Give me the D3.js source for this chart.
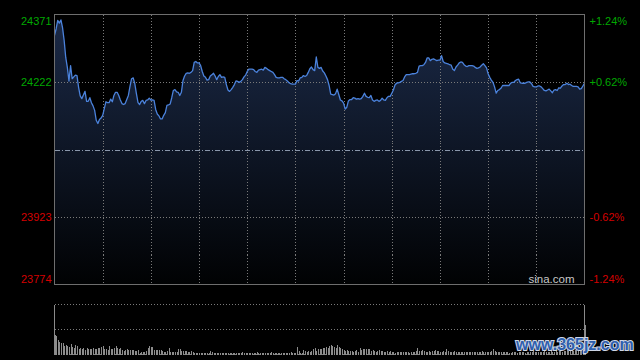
<!DOCTYPE html>
<html><head><meta charset="utf-8">
<script src="https://cdn.jsdelivr.net/npm/d3@7"></script>
<style>html,body{margin:0;padding:0;background:#000;overflow:hidden}svg{display:block}</style>
</head><body>
<svg id="c" width="640" height="360"></svg>
<script>
// ---- data ----
const prevClose = 24072.5;
const priceTicks = [24371, 24222, 23923, 23774];
const pctTicks = ["+1.24%", "+0.62%", "-0.62%", "-1.24%"];
const gridMinutes = [30, 60, 90, 120, 150, 180, 210, 240, 270, 300];
// one value per trading minute (0 = 09:30, 150 = 12:00/13:00, 330 = 16:00)
const prices = [
24325,24339,24358,24352,24359,24342,24314,24276,24254,24224,
24258,24229,24233,24237,24236,24210,24191,24185,24193,24201,
24179,24179,24187,24176,24169,24159,24137,24130,24139,24142,
24148,24163,24178,24176,24176,24184,24178,24192,24199,24199,
24192,24182,24174,24172,24174,24183,24192,24212,24229,24231,
24218,24196,24176,24172,24179,24181,24174,24181,24182,24186,
24182,24182,24181,24161,24151,24147,24140,24140,24148,24154,
24170,24171,24173,24187,24203,24205,24200,24199,24192,24199,
24225,24235,24241,24242,24241,24243,24247,24265,24267,24264,
24264,24258,24245,24235,24232,24226,24227,24235,24238,24241,
24235,24227,24234,24238,24232,24233,24232,24216,24204,24201,
24205,24210,24216,24224,24223,24221,24223,24227,24233,24237,
24245,24250,24250,24250,24249,24245,24243,24248,24249,24250,
24248,24254,24252,24249,24247,24245,24243,24238,24232,24231,
24231,24232,24232,24229,24227,24224,24220,24218,24217,24217,
24217,24225,24224,24231,24232,24236,24234,24236,24243,24251,
24255,24249,24247,24277,24254,24252,24254,24246,24242,24235,
24227,24214,24195,24194,24193,24196,24206,24194,24182,24180,
24175,24162,24166,24180,24183,24183,24187,24186,24184,24185,
24184,24185,24190,24197,24190,24188,24187,24192,24182,24179,
24181,24182,24179,24181,24186,24182,24181,24187,24190,24190,
24197,24204,24215,24219,24220,24221,24223,24225,24233,24238,
24238,24238,24239,24240,24240,24241,24243,24257,24258,24258,
24260,24265,24275,24275,24269,24272,24273,24271,24269,24270,
24270,24280,24267,24264,24263,24262,24260,24259,24250,24247,
24255,24259,24264,24266,24265,24260,24257,24256,24258,24258,
24258,24257,24254,24252,24253,24255,24259,24262,24258,24253,
24240,24232,24226,24221,24211,24197,24203,24205,24208,24214,
24214,24214,24214,24214,24219,24221,24221,24225,24227,24228,
24220,24219,24219,24219,24221,24222,24222,24218,24212,24211,
24211,24213,24213,24211,24207,24203,24202,24204,24206,24202,
24198,24204,24205,24203,24209,24208,24213,24216,24216,24219,
24216,24217,24214,24212,24212,24212,24211,24206,24207,24213,
24219
];
// volume per minute (relative units)
const volumes = [
20,19,15,13,12,12,9,10,9,8,11,8,7,10,9,6,7,6,7,5,7,
6,6,6,7,6,6,7,7,8,9,6,6,5,9,6,6,7,9,7,6,7,
5,4,5,6,5,5,5,5,4,4,5,2,3,3,3,4,7,9,8,8,5,
5,5,5,5,4,3,3,4,7,3,3,3,3,3,6,6,4,4,4,4,3,
3,4,3,2,2,2,2,2,2,2,2,2,2,4,3,2,2,2,2,2,2,
2,2,2,2,2,2,2,2,2,2,2,2,3,2,2,2,2,
2,2,2,2,3,2,2,2,2,2,2,2,2,3,2,2,2,2,2,2,2,2,2,2,2,3,2,2,2,
8,4,2,2,5,4,3,4,3,4,6,7,4,6,6,
6,7,7,8,7,9,10,9,8,7,10,8,7,6,5,4,5,4,4,4,
3,4,5,3,7,5,6,6,6,6,6,4,5,4,3,4,5,4,4,3,3,
4,3,4,3,3,2,3,3,3,3,3,3,3,3,2,3,3,3,4,7,4,
4,5,4,3,3,4,3,4,4,5,4,4,3,3,4,3,6,4,3,3,
3,4,3,3,3,3,3,3,3,3,3,3,3,3,3,3,3,3,4,3,3,
3,3,3,4,6,4,3,3,3,3,3,3,3,3,2,2,3,
3,3,2,3,3,3,3,2,3,3,3,3,4,3,3,3,3,3,3,4,
3,3,3,4,3,3,4,3,4,4,3,4,4,5,4,4,5,4,5,5,6,5,7,8,30
];

// ---- layout ----
const L = 54.5, R = 584.5, T = 14.5, B = 284.5;
const VT = 304.5, VB = 354.5;
const svg = d3.select("#c");
svg.append("rect").attr("width", 640).attr("height", 360).attr("fill", "#000");

const x = d3.scaleLinear().domain([0, 330]).range([L, R]);
const y = d3.scaleLinear().domain([23774, 24371]).range([B, T]);
const vy = d3.scaleLinear().domain([0, 50]).range([VB, VT]);

const defs = svg.append("defs");
const g = defs.append("linearGradient").attr("id", "fillG")
  .attr("gradientUnits", "userSpaceOnUse").attr("x1", 0).attr("x2", 0).attr("y1", T).attr("y2", B);
g.append("stop").attr("offset", 0).attr("stop-color", "#1b2a48");
g.append("stop").attr("offset", 1).attr("stop-color", "#010203");

// area + line
const area = d3.area().x((d, i) => x(i)).y0(B).y1(d => y(d));
svg.append("path").datum(prices).attr("d", area).attr("fill", "url(#fillG)");

// grid
const grid = svg.append("g").attr("stroke", "#7a7a7a").attr("stroke-dasharray", "1,2").attr("shape-rendering", "crispEdges");
grid.selectAll("line.v").data(gridMinutes).enter().append("line")
  .attr("x1", d => Math.round(x(d)) + 0.5).attr("x2", d => Math.round(x(d)) + 0.5)
  .attr("y1", T).attr("y2", B);
grid.selectAll("line.h").data([priceTicks[1], priceTicks[2]]).enter().append("line")
  .attr("x1", L).attr("x2", R)
  .attr("y1", d => Math.round(y(d)) + 0.5).attr("y2", d => Math.round(y(d)) + 0.5);
svg.append("line").attr("x1", L).attr("x2", R)
  .attr("y1", Math.round(y(prevClose)) + 0.5).attr("y2", Math.round(y(prevClose)) + 0.5)
  .attr("stroke", "#8a97ab").attr("stroke-dasharray", "5,2,1,2").attr("shape-rendering", "crispEdges");

const line = d3.line().x((d, i) => x(i)).y(d => y(d));
svg.append("path").datum(prices).attr("d", line).attr("fill", "none")
  .attr("stroke", "#4b82db").attr("stroke-width", 1.3).attr("stroke-linejoin", "round");

// frame
svg.append("rect").attr("x", L).attr("y", T).attr("width", R - L).attr("height", B - T)
  .attr("fill", "none").attr("stroke", "#6e6e6e").attr("shape-rendering", "crispEdges");

// axis labels
const fmtCol = i => i < 2 ? "#00a800" : "#d40000";
const left = svg.append("g").attr("transform", `translate(${L - 3},0)`)
  .call(d3.axisLeft(y).tickValues(priceTicks).tickSize(0).tickPadding(0).tickFormat(d3.format("d")));
left.select(".domain").remove();
left.selectAll("text").attr("fill", (d, i) => fmtCol(i))
  .attr("font-family", "Liberation Sans, Arial, sans-serif").attr("font-size", 11)
  .attr("dy", (d, i) => i === 0 ? "0.95em" : i === 3 ? "-0.2em" : "0.32em");
const pctMap = new Map(priceTicks.map((p, i) => [p, pctTicks[i]]));
const right = svg.append("g").attr("transform", `translate(${R + 5},0)`)
  .call(d3.axisRight(y).tickValues(priceTicks).tickSize(0).tickPadding(0).tickFormat(d => pctMap.get(d)));
right.select(".domain").remove();
right.selectAll("text").attr("fill", (d, i) => fmtCol(i))
  .attr("font-family", "Liberation Sans, Arial, sans-serif").attr("font-size", 11)
  .attr("dy", (d, i) => i === 0 ? "0.95em" : i === 3 ? "-0.15em" : "0.32em");

svg.append("text").attr("x", R - 10).attr("y", B - 1.5).attr("text-anchor", "end")
  .attr("fill", "#c8c8c8").attr("font-family", "Liberation Sans, Arial, sans-serif").attr("font-size", 11.5)
  .text("sina.com");

// volume panel
const vg = svg.append("g").attr("shape-rendering", "crispEdges");
vg.selectAll("line.h").data([VT, (VT + VB) / 2, VB]).enter().append("line")
  .attr("x1", L).attr("x2", R).attr("y1", d => Math.floor(d) + 0.5).attr("y2", d => Math.floor(d) + 0.5)
  .attr("stroke", "#7a7a7a").attr("stroke-dasharray", "1,2");
vg.selectAll("rect.bar").data(volumes).enter().append("rect")
  .attr("x", (d, i) => Math.round(x(i)) - 0.5).attr("width", 1)
  .attr("y", d => vy(d)).attr("height", d => VB - vy(d))
  .attr("fill", "#8c8c8c");
vg.selectAll("line.v").data([L, R]).enter().append("line")
  .attr("x1", d => d).attr("x2", d => d).attr("y1", VT).attr("y2", VB)
  .attr("stroke", "#8a8a8a");

// watermark
svg.append("text").attr("x", 516).attr("y", 350)
  .attr("font-family", "Liberation Sans, Arial, sans-serif").attr("font-weight", "bold").attr("font-size", 16)
  .attr("fill", "#2f5fae").attr("stroke", "#cdd6e6").attr("stroke-width", 2).attr("paint-order", "stroke")
  .text("www.365jz.com");
</script>
</body></html>
